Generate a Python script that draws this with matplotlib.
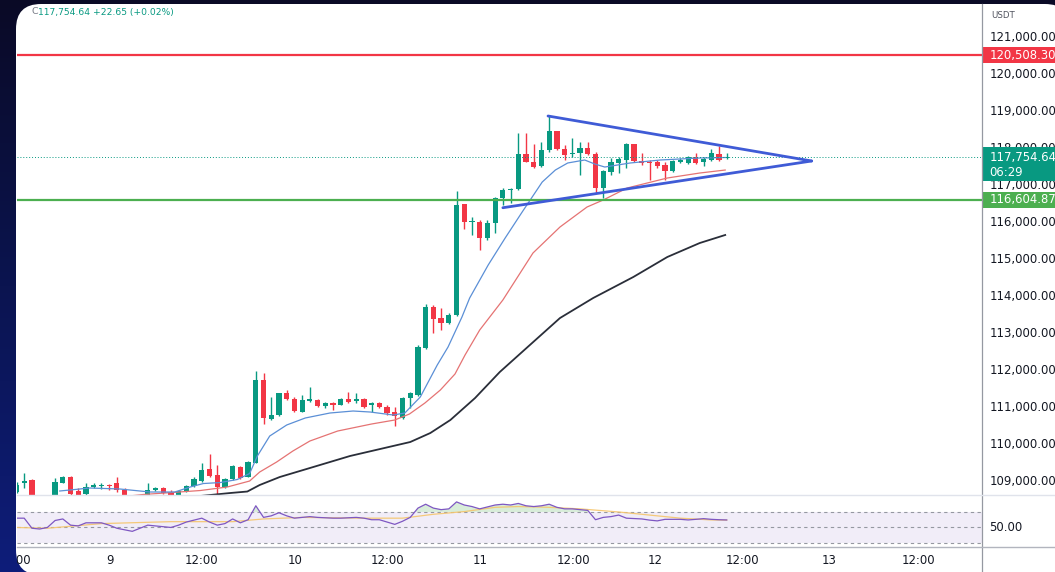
import numpy as np
import matplotlib
matplotlib.use("Agg")
import matplotlib.pyplot as plt
import matplotlib.transforms as mtrans
from matplotlib.patches import FancyBboxPatch, Rectangle
from matplotlib.colors import LinearSegmentedColormap

# ---------------- DATA ----------------
opens = [108711,108938,109027,108550,108450,108500,108954,109116,108730,108649,108846,108865,108878,108938,108757,108580,108520,108560,108757,108819,108695,108600,108730,108865,109008,109316,109162,108846,109046,109386,109116,109495,111730,110668,110784,111370,111208,110873,111170,111189,111027,111116,111054,111208,111170,111208,111054,111100,111008,110865,110716,111235,111324,112586,113711,113397,113278,113487,116478,116000,116008,115559,115965,116657,116865,116892,117830,117630,117514,117946,118460,117965,117838,117857,117992,117830,116911,117359,117603,117676,118100,117657,117622,117630,117541,117378,117630,117586,117749,117630,117676,117838,117732]
highs = [108981,109208,109054,108600,108600,109073,109135,109135,108803,108938,108938,108954,108919,109116,108803,108610,108600,108938,108838,108846,108757,108757,108892,109116,109478,109730,109432,109073,109432,109405,109549,111981,111927,111278,111386,111459,111262,111324,111549,111208,111143,111143,111235,111414,111370,111235,111122,111143,111054,111008,111278,111414,112676,113784,113757,113668,113532,116838,116486,116143,116054,116054,116684,116911,116911,118397,118397,118100,118154,118892,118473,118081,118262,118170,118170,117900,117405,117722,117749,118127,118108,117857,117676,117676,117630,117676,117722,117784,117857,117749,117965,118054,117873]
lows = [108676,108811,108500,108400,108350,108450,108946,108600,108550,108600,108803,108784,108757,108711,108550,108450,108450,108500,108730,108662,108560,108580,108703,108838,108973,109116,108620,108824,109027,109046,109095,109478,110541,110649,110757,111189,110873,110865,111143,111008,110973,110919,111041,111116,111100,110986,110873,110965,110784,110487,110676,110986,111297,112559,112992,113081,113257,113459,115811,115649,115243,115514,115695,116459,116505,116865,117614,117451,117495,117900,117946,117676,117765,117270,117811,116776,116641,117270,117316,117451,117630,117541,117135,117451,117135,117359,117586,117568,117568,117514,117657,117657,117695]
closes = [108892,109000,108550,108450,108500,108981,109116,108649,108600,108846,108884,108878,108865,108757,108580,108520,108560,108757,108803,108684,108600,108730,108873,109046,109297,109135,108830,109046,109405,109073,109522,111730,110695,110784,111370,111208,110892,111189,111189,111027,111116,111054,111208,111143,111208,111008,111100,111008,110830,110757,111235,111370,112630,113711,113370,113278,113487,116459,116008,116027,115559,115965,116657,116865,116884,117830,117630,117495,117946,118460,117965,117811,117865,117992,117830,116911,117378,117630,117695,118100,117649,117586,117595,117514,117386,117657,117649,117765,117603,117695,117857,117676,117754.64]

# moving averages (bar index, price)
ema_fast_idx = [5.6,9.5,13.4,17.3,20.5,22.5,24.2,26.4,28.6,30.2,31.2,32.8,35.0,37.4,40.6,43.6,45.8,48.8,50.3,52.3,54.5,55.9,57.7,58.7,61.1,63.3,65.5,68.1,69.8,71.4,73.6,74.9,76.2,79.5,83.4,88.5,91.8]
ema_fast_val = [108730,108811,108784,108703,108703,108838,108932,108959,109041,109203,109676,110216,110514,110703,110838,110892,110865,110784,110838,111270,112135,112622,113432,113946,114838,115568,116270,117081,117405,117595,117676,117568,117486,117595,117676,117730,117743]
ema_mid_idx = [13.4,16.4,23.8,27.3,30.2,31.5,33.7,35.8,38.0,41.6,46.0,49.0,50.9,52.9,54.9,56.8,58.1,60.0,63.0,66.9,70.4,73.9,76.0,79.1,84.3,88.5,91.8]
ema_mid_val = [108568,108635,108743,108838,109000,109243,109514,109811,110081,110351,110541,110649,110811,111108,111459,111892,112405,113081,113892,115162,115865,116405,116595,116919,117189,117324,117405]
ema_slow_idx = [23.8,27.7,29.9,31.5,34.1,38.0,43.2,47.1,51.0,53.6,56.2,59.4,62.6,66.5,70.4,74.7,79.9,84.3,88.5,91.8]
ema_slow_val = [108595,108676,108716,108892,109108,109351,109676,109865,110054,110297,110649,111243,111946,112676,113405,113946,114514,115054,115432,115649]

rsi_idx = [0,1,2,3,4,5,6,7,8,9,10,11,12,13,15,16,17,18,20,21,22,24,25,26,27,28,29,30,31,32,33,34,35,36,37,38,39,41,42,44,45,46,47,48,49,50,51,52,53,54,55,56,57,58,59,60,62,63,64,65,66,67,68,69,70,71,72,73,74,75,76,77,78,79,80,81,82,83,84,85,86,87,88,89,90,91,92]
rsi_val = [62,62,49,48,50,59,61,53,52,56,56,56,53,49,45,49,53,52,50,53,57,62,57,53,55,61,56,60,78,63,65,69,65,62,63,64,63,62,62,63,62,60,60,57,54,58,63,75,80,75,73,74,83,79,77,74,79,80,79,81,78,77,78,80,76,74,74,73,72,60,63,64,66,62,61.5,61,59.5,58.5,60.5,60.5,60.5,59.7,60.5,61.4,60.5,60,59.7]
rsi_ma_idx = [0,4,11,20,28,32,37,45,50,54,58,62,65,69,73,78,82,86,90,92]
rsi_ma_val = [50,49,55,57.5,57.5,61,63,62,62,67,70.5,76,77,76,74,70,66,62,59.7,59.5]

resistance = 120508.30
support = 116604.87
last_price = 117754.64
countdown = "06:29"
tri_upper = [(68.85, 118865), (103.0, 117649)]
tri_lower = [(63.0, 116386), (103.0, 117649)]

price_ticks = [121000,120000,119000,118000,117000,116000,115000,114000,113000,112000,111000,110000,109000]
time_tick_pos = [-0.3,12.1,24.0,36.1,48.1,60.0,72.1,82.7,94.1,105.2,116.9]
time_tick_lab = ["12:00","9","12:00","10","12:00","11","12:00","12","12:00","13","12:00"]
header_text = "117,754.64 +22.65 (+0.02%)"

# ---------------- STYLE / LAYOUT ----------------
W, H = 1055, 572
UP, DOWN = "#089981", "#f23645"
TXT = "#131722"
FS = 8.4
px0, pxs = 16.5, 7.72           # pixel position of bar 0 and bar spacing
X_L, X_R = 17, 982               # chart pane horizontal extent in pixels
Y_T, Y_MB, Y_RB = 5, 495, 547    # top, main bottom, rsi bottom (pixels)
P_TOP, P_BOT = 121865, 108622    # price range of main pane
R_TOP, R_BOT = 91.9, 24.8        # RSI range

fig = plt.figure(figsize=(W / 100, H / 100), dpi=100)

def fx(px):
    return px / W

def fy(py):
    return 1 - py / H

# background
bg = fig.add_axes([0, 0, 1, 1], zorder=0)
bg.set_xlim(0, W); bg.set_ylim(H, 0); bg.axis("off")
cmap = LinearSegmentedColormap.from_list("bg", ["#0a0a26", "#0b1450", "#0e1d7a"])
bg.imshow(np.linspace(0, 1, 256).reshape(-1, 1), extent=[0, W, H, 0], aspect="auto", cmap=cmap)
bg.add_patch(FancyBboxPatch((16, 4), 1070 - 16, 575 - 4,
                            boxstyle="round,pad=0,rounding_size=25",
                            fc="white", ec="none"))

xlim = ((X_L - px0) / pxs, (X_R - px0) / pxs)

# main price pane
ax = fig.add_axes([fx(X_L), fy(Y_MB), fx(X_R - X_L), (Y_MB - Y_T) / H], zorder=2)
ax.set_facecolor("none")
ax.set_xlim(*xlim); ax.set_ylim(P_BOT, P_TOP)
for s in ax.spines.values():
    s.set_visible(False)
ax.set_xticks([]); ax.set_yticks([])

idx = np.arange(len(opens))
o = np.array(opens); c = np.array(closes); hi = np.array(highs); lo = np.array(lows)
up = c >= o
cols = np.where(up, UP, DOWN)
ax.vlines(idx, lo, hi, colors=cols, linewidth=1.0, zorder=3)
body_bot = np.minimum(o, c)
body_h = np.maximum(np.abs(c - o), 35)
ax.bar(idx, body_h, bottom=body_bot, width=0.68, color=cols, linewidth=0, zorder=4)

ax.plot(ema_slow_idx, ema_slow_val, color="#2a2e39", lw=1.3, zorder=5)
ax.plot(ema_mid_idx, ema_mid_val, color="#e57373", lw=0.9, zorder=5)
ax.plot(ema_fast_idx, ema_fast_val, color="#5b8fd6", lw=0.9, zorder=5)

ax.axhline(resistance, color="#f23645", lw=1.6, zorder=6)
ax.axhline(support, color="#4caf50", lw=1.6, zorder=6)
ax.axhline(last_price, color=UP, lw=0.7, ls=(0, (1, 2)), zorder=6)

for seg in (tri_upper, tri_lower):
    ax.plot([seg[0][0], seg[1][0]], [seg[0][1], seg[1][1]], color="#3f5bd6",
            lw=2.0, solid_capstyle="round", zorder=7)

ax.text(fx(32), fy(12), "C", transform=fig.transFigure, fontsize=6.8,
        color="#787b86", va="center", ha="left")
ax.text(fx(38.5), fy(12), header_text, transform=fig.transFigure, fontsize=6.6,
        color=UP, va="center", ha="left")

# RSI pane
rx = fig.add_axes([fx(X_L), fy(Y_RB), fx(X_R - X_L), (Y_RB - Y_MB) / H], zorder=2)
rx.set_facecolor("none")
rx.set_xlim(*xlim); rx.set_ylim(R_BOT, R_TOP)
for s in rx.spines.values():
    s.set_visible(False)
rx.set_xticks([]); rx.set_yticks([])
rx.axhspan(30, 70, color="#7e57c2", alpha=0.10, lw=0)
for lvl in (70, 50, 30):
    rx.axhline(lvl, color="#9598a1", lw=0.8, ls=(0, (3, 3)))
rv = np.array(rsi_val, dtype=float)
rx.fill_between(rsi_idx, 70, rv, where=rv > 70, interpolate=True,
                color="#66bb6a", alpha=0.25, lw=0)
rx.plot(rsi_ma_idx, rsi_ma_val, color="#f5c56b", lw=0.9, alpha=0.9)
rx.plot(rsi_idx, rsi_val, color="#7e57c2", lw=0.9)

# time labels
tx = fig.add_axes([fx(X_L), fy(H), fx(X_R - X_L), (H - Y_RB) / H], zorder=2)
tx.set_facecolor("none"); tx.axis("off")
tx.set_xlim(*xlim); tx.set_ylim(0, 1)
for p, lab in zip(time_tick_pos, time_tick_lab):
    tx.text(p, 0.47, lab, fontsize=FS, color=TXT, ha="center", va="center", clip_on=True)

# price scale
pxa = fig.add_axes([fx(X_R), fy(Y_MB), 1 - fx(X_R), (Y_MB - Y_T) / H], zorder=3, sharey=ax)
pxa.set_facecolor("none"); pxa.set_xlim(0, 1)
for s in pxa.spines.values():
    s.set_visible(False)
pxa.tick_params(left=False, bottom=False, labelleft=False, labelbottom=False)
tr = mtrans.blended_transform_factory(pxa.transAxes, pxa.transData)
xt = (989.5 - X_R) / (W - X_R)
for p in price_ticks:
    pxa.text(xt, p, f"{p:,.2f}", transform=tr, fontsize=FS, color=TXT,
             va="center", ha="left", clip_on=False)
pxa.text(xt + 0.02, 1 - (15 - Y_T) / (Y_MB - Y_T), "USDT", transform=pxa.transAxes,
         fontsize=6.2, color="#50535e", va="center", ha="left")

ppp = (P_TOP - P_BOT) / (Y_MB - Y_T)   # price units per pixel

def badge(center_price, hpx, color, zorder=5):
    h = hpx * ppp
    pxa.add_patch(Rectangle((0.01, center_price - h / 2), 1.2, h, transform=tr,
                            fc=color, ec="none", zorder=zorder, clip_on=False))

badge(resistance, 16, "#f23645")
pxa.text(xt, resistance, f"{resistance:,.2f}", transform=tr, fontsize=FS,
         color="white", va="center", ha="left", zorder=6)
badge(last_price - 7 * ppp, 34, UP)
pxa.text(xt, last_price, f"{last_price:,.2f}", transform=tr, fontsize=FS,
         color="white", va="center", ha="left", zorder=6)
pxa.text(xt, last_price - 15 * ppp, countdown, transform=tr, fontsize=FS,
         color="white", va="center", ha="left", zorder=6)
badge(support, 16, "#4caf50")
pxa.text(xt, support, f"{support:,.2f}", transform=tr, fontsize=FS,
         color="white", va="center", ha="left", zorder=6)

# RSI scale label
rpx = fig.add_axes([fx(X_R), fy(Y_RB), 1 - fx(X_R), (Y_RB - Y_MB) / H], zorder=3, sharey=rx)
rpx.set_facecolor("none"); rpx.axis("off")
rpx.text(xt, 50, "50.00", transform=mtrans.blended_transform_factory(rpx.transAxes, rpx.transData),
         fontsize=FS, color=TXT, va="center", ha="left")

# separators
ov = fig.add_axes([0, 0, 1, 1], zorder=4)
ov.set_facecolor("none"); ov.axis("off")
ov.set_xlim(0, W); ov.set_ylim(H, 0)
ov.plot([X_R, X_R], [Y_T - 1, H], color="#9598a1", lw=0.9)
ov.plot([X_L, W], [Y_MB, Y_MB], color="#e0e3eb", lw=1.0)
ov.plot([X_L, W], [Y_RB, Y_RB], color="#b2b5be", lw=1.0)

fig.savefig("out.png", dpi=100)
